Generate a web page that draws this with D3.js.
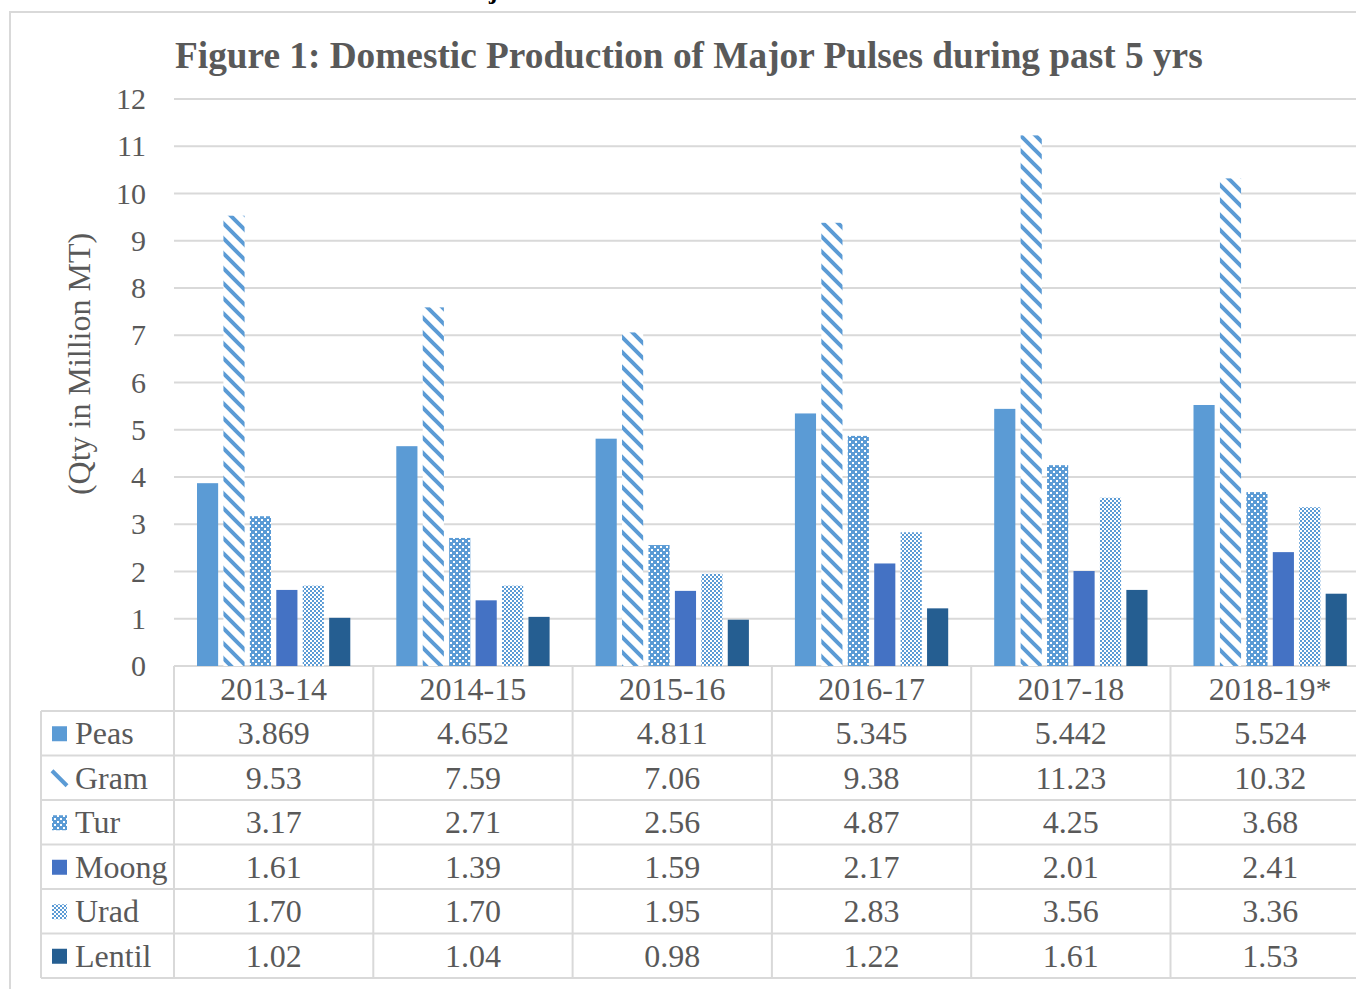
<!DOCTYPE html>
<html>
<head>
<meta charset="utf-8">
<script src="https://cdn.jsdelivr.net/npm/d3@7"></script>
<style>
  body { margin: 0; background: #fff; }
  text { font-family: "Liberation Serif", "DejaVu Serif", serif; fill: #595959; }
</style>
</head>
<body>
<script>
// data
var years = ["2013-14", "2014-15", "2015-16", "2016-17", "2017-18", "2018-19*"];
var pulses = ["Peas", "Gram", "Tur", "Moong", "Urad", "Lentil"];
var peas = [3.869, 4.652, 4.811, 5.345, 5.442, 5.524];
var gram = [9.53, 7.59, 7.06, 9.38, 11.23, 10.32];
var tur = [3.17, 2.71, 2.56, 4.87, 4.25, 3.68];
var moong = [1.61, 1.39, 1.59, 2.17, 2.01, 2.41];
var urad = [1.70, 1.70, 1.95, 2.83, 3.56, 3.36];
var lentil = [1.02, 1.04, 0.98, 1.22, 1.61, 1.53];
var yTicks = [0, 1, 2, 3, 4, 5, 6, 7, 8, 9, 10, 11, 12];

var values = [peas, gram, tur, moong, urad, lentil];
var digits = [3, 2, 2, 2, 2, 2];
var fills = ["#5b9bd5", "url(#pGram)", "url(#pTur)", "#4472c4", "url(#pUrad)", "#255e91"];
var grid = "#d9d9d9";

var W = 1356, H = 989;
var svg = d3.select("body").append("svg").attr("width", W).attr("height", H);

// patterns
var defs = svg.append("defs");
var pg = defs.append("pattern").attr("id", "pGram")
  .attr("patternUnits", "userSpaceOnUse").attr("width", 15).attr("height", 15);
pg.append("rect").attr("width", 15).attr("height", 15).attr("fill", "#fff");
pg.append("path").attr("d", "M-4,-4L19,19M-4,11L4,19M11,-4L19,4")
  .attr("stroke", "#5b9bd5").attr("stroke-width", 4);

var pt = defs.append("pattern").attr("id", "pTur")
  .attr("patternUnits", "userSpaceOnUse").attr("width", 6).attr("height", 6)
  .attr("shape-rendering", "crispEdges");
pt.append("rect").attr("width", 6).attr("height", 6).attr("fill", "#5b9bd5");
pt.append("rect").attr("x", 0).attr("y", 0).attr("width", 2).attr("height", 2).attr("fill", "#fff");
pt.append("rect").attr("x", 3).attr("y", 3).attr("width", 2).attr("height", 2).attr("fill", "#fff");

var pu = defs.append("pattern").attr("id", "pUrad")
  .attr("patternUnits", "userSpaceOnUse").attr("width", 4).attr("height", 4)
  .attr("shape-rendering", "crispEdges");
pu.append("rect").attr("width", 4).attr("height", 4).attr("fill", "#fff");
pu.append("rect").attr("x", 0).attr("y", 0).attr("width", 2).attr("height", 2).attr("fill", "#5b9bd5");
pu.append("rect").attr("x", 2).attr("y", 2).attr("width", 2).attr("height", 2).attr("fill", "#5b9bd5");

// cut-off heading above the chart
svg.append("text").attr("x", 489).attr("y", -1)
  .style("font-size", "26px").style("font-weight", "bold").style("fill", "#000")
  .text("j");

// chart border
svg.append("path").attr("d", "M10," + H + "V12H" + W)
  .attr("fill", "none").attr("stroke", grid).attr("stroke-width", 2);

var plotLeft = 174, colW = 199.3, plotTop = 99, plotBottom = 666;
var x0 = d3.scaleBand().domain(years).range([plotLeft, plotLeft + colW * years.length]);
var x1 = d3.scaleBand().domain(pulses).range([23, colW - 23]).paddingInner(0.2);
var y = d3.scaleLinear().domain([0, 12]).range([plotBottom, plotTop]);

svg.append("text").attr("x", 175).attr("y", 68)
  .style("font-size", "37.3px").style("font-weight", "bold")
  .text("Figure 1: Domestic Production of Major Pulses during past 5 yrs");

// gridlines
svg.append("g").selectAll("line").data(yTicks).join("line")
  .attr("x1", plotLeft).attr("x2", W).attr("y1", d => y(d)).attr("y2", d => y(d))
  .attr("stroke", grid).attr("stroke-width", 2);

// y axis labels
var yAxis = svg.append("g").attr("transform", "translate(" + plotLeft + ",0)")
  .call(d3.axisLeft(y).tickValues(yTicks).tickSize(0).tickPadding(28));
yAxis.select(".domain").remove();
yAxis.selectAll("text").style("font-size", "30px").style("font-family", "Liberation Serif").attr("fill", "#595959");

svg.append("text").attr("transform", "translate(90,364) rotate(-90)")
  .attr("text-anchor", "middle").style("font-size", "32px")
  .text("(Qty in Million MT)");

// bars
var groups = svg.append("g").selectAll("g").data(pulses).join("g")
  .attr("fill", (d, i) => fills[i]);
groups.selectAll("rect").data((d, i) => values[i].map((v, j) => ({ p: d, v: v, yr: years[j] })))
  .join("rect")
  .attr("x", d => x0(d.yr) + x1(d.p))
  .attr("width", x1.bandwidth())
  .attr("y", d => y(d.v))
  .attr("height", d => y(0) - y(d.v));

// data table
var rowH = 44.5, headH = 45, legL = 41;
var rowY = d3.scaleBand().domain(pulses).range([plotBottom + headH, plotBottom + headH + rowH * pulses.length]);
var tbl = svg.append("g").attr("stroke", grid).attr("stroke-width", 2).attr("fill", "none");
var tBottom = rowY.range()[1];
// horizontal lines
tbl.selectAll("line.h").data(pulses).join("line").attr("class", "h")
  .attr("x1", legL).attr("x2", W).attr("y1", d => rowY(d)).attr("y2", d => rowY(d));
tbl.append("line").attr("x1", legL).attr("x2", W).attr("y1", tBottom).attr("y2", tBottom);
// vertical lines
tbl.selectAll("line.v").data(years).join("line").attr("class", "v")
  .attr("x1", d => x0(d)).attr("x2", d => x0(d)).attr("y1", plotBottom).attr("y2", tBottom);
tbl.append("line").attr("x1", legL).attr("x2", legL).attr("y1", rowY(pulses[0])).attr("y2", tBottom);

svg.append("g").selectAll("text").data(years).join("text")
  .attr("x", d => x0(d) + colW / 2).attr("y", plotBottom + headH / 2 + 11)
  .attr("text-anchor", "middle").style("font-size", "32px").text(d => d);

var rows = svg.append("g").selectAll("g").data(pulses).join("g")
  .attr("transform", d => "translate(0," + rowY(d) + ")");
rows.append("rect").attr("x", 52).attr("y", rowH / 2 - 7).attr("width", 15).attr("height", 15)
  .attr("fill", (d, i) => fills[i]);
rows.filter(d => d === "Gram").select("rect").attr("fill", "none");
rows.filter(d => d === "Gram").append("path")
  .attr("d", "M52," + (rowH / 2 - 7) + "L67," + (rowH / 2 + 8))
  .attr("stroke", "#5b9bd5").attr("stroke-width", 4);
rows.append("text").attr("x", 75).attr("y", rowH / 2 + 11).style("font-size", "32px").text(d => d);
rows.selectAll("text.v").data((d, i) => values[i].map((v, j) => ({ v: v, yr: years[j], n: digits[i] })))
  .join("text").attr("class", "v")
  .attr("x", d => x0(d.yr) + colW / 2).attr("y", rowH / 2 + 11)
  .attr("text-anchor", "middle").style("font-size", "32px")
  .text(d => d3.format("." + d.n + "f")(d.v));
</script>
</body>
</html>
